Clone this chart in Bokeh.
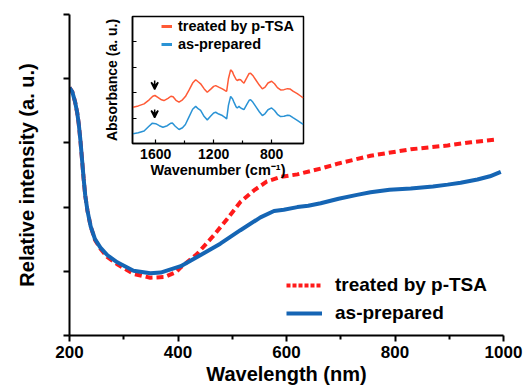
from bokeh.plotting import figure
from bokeh.models import (Range1d, FixedTicker, Legend, LegendItem, Arrow, VeeHead,
                          ColumnDataSource)
from bokeh.layouts import column
from bokeh.embed import file_html
from bokeh.resources import INLINE

NAN = float("nan")

# ---------------- main spectra (wavelength, relative intensity) ----------------
wl_prepared = [200, 205, 210, 214, 217, 220, 223, 226, 229, 233, 239, 247, 257, 270, 288,
               318, 349, 368, 405, 441, 478, 515, 552, 577, 595, 620,
               640, 663, 696, 730, 755, 790, 829, 870, 897, 921, 952, 975, 995]
int_prepared = [3.86, 3.80, 3.65, 3.48, 3.30, 3.05, 2.75, 2.45, 2.18, 1.95, 1.70, 1.50, 1.37,
                1.25, 1.14, 1.01, 0.97, 0.98, 1.08, 1.25, 1.43, 1.64, 1.84, 1.94, 1.96, 2.00,
                2.02, 2.06, 2.13, 2.19, 2.23, 2.27, 2.29, 2.32, 2.35, 2.38, 2.43, 2.48, 2.55]

wl_treated = [200, 205, 210, 214, 217, 220, 223, 226, 229, 233, 239, 247, 257, 270, 288,
              318, 349, 375, 397, 405, 435, 466, 491, 515, 540, 564, 589, 620, 663,
              696, 755, 829, 897, 940, 985]
int_treated = [3.86, 3.80, 3.65, 3.48, 3.30, 3.05, 2.75, 2.45, 2.18, 1.95, 1.70, 1.49, 1.35,
               1.22, 1.11, 0.96, 0.90, 0.91, 0.99, 1.06, 1.27, 1.56, 1.82, 2.08, 2.26, 2.40,
               2.47, 2.51, 2.60, 2.68, 2.80, 2.90, 2.96, 3.01, 3.05]

x_ticks = [200, 400, 600, 800, 1000]
x_minor = [300, 500, 700, 900]
y_ticks = [0, 1, 2, 3, 4, 5]

# ---------------- inset IR spectra (wavenumber, absorbance) ----------------
wn = [1756, 1720, 1680, 1645, 1620, 1605, 1585, 1560, 1543, 1515, 1495, 1480, 1460, 1439,
      1415, 1395, 1370, 1345, 1324, 1305, 1290, 1265, 1244, 1220, 1200, 1186, 1165, 1140,
      1120, 1110, 1098, 1083, 1070, 1060, 1045, 1037, 1025, 1014, 1000, 991, 970, 955, 945,
      930, 910, 885, 864, 845, 825, 800, 780, 760, 738, 715, 690, 674, 650, 623, 600, 582]
abs_treated = [1.43, 1.48, 1.56, 1.72, 1.86, 1.89, 1.82, 1.72, 1.69, 1.78, 1.86, 1.84, 1.70,
               1.63, 1.72, 1.85, 2.10, 2.38, 2.51, 2.42, 2.35, 2.15, 2.02, 2.14, 2.25, 2.28,
               2.22, 2.15, 2.08, 2.06, 2.55, 2.90, 2.82, 2.68, 2.52, 2.48, 2.52, 2.51, 2.42,
               2.38, 2.60, 2.76, 2.77, 2.68, 2.51, 2.30, 2.15, 2.22, 2.38, 2.45, 2.35, 2.20,
               2.11, 2.12, 2.16, 2.15, 2.05, 1.96, 1.87, 1.80]
wn_prepared = [1756, 1720, 1680, 1650, 1623, 1600, 1575, 1550, 1520, 1495, 1485, 1465, 1439,
               1415, 1395, 1370, 1345, 1324, 1305, 1290, 1265, 1244, 1220, 1200, 1186, 1165,
               1140, 1120, 1110, 1098, 1083, 1070, 1060, 1045, 1037, 1025, 1014, 1000, 991,
               970, 955, 945, 930, 910, 885, 864, 845, 825, 800, 780, 760, 738, 715, 690, 674,
               650, 623, 600, 582]
abs_prepared = [0.38, 0.42, 0.49, 0.66, 0.80, 0.78, 0.70, 0.64, 0.70, 0.80, 0.81, 0.68, 0.55,
                0.62, 0.75, 1.05, 1.35, 1.46, 1.36, 1.30, 1.06, 0.93, 1.08, 1.20, 1.23, 1.16,
                1.10, 1.02, 0.97, 1.50, 1.85, 1.76, 1.63, 1.44, 1.40, 1.46, 1.40, 1.36, 1.33,
                1.55, 1.70, 1.72, 1.63, 1.46, 1.25, 1.10, 1.18, 1.33, 1.40, 1.30, 1.15, 1.06,
                1.07, 1.11, 1.10, 1.01, 0.91, 0.82, 0.75]

inset_x_ticks = [1600, 1200, 800]
inset_x_minor = [1400, 1000]
inset_y_ticks = [0, 1, 2, 3, 4, 5]

arrow_wn = [1607, 1607]
arrow_y_start = [2.48, 1.34]
arrow_y_end = [2.13, 1.02]

FONT = "Liberation Sans"
RED = "#FF1A1A"
BLUE = "#1565B4"
IRED = "#FF5A36"
IBLUE = "#2A93D5"

# ---------------- main figure ----------------
p = figure(width=523, height=392, output_backend="svg", toolbar_location=None,
           x_range=Range1d(200, 1000), y_range=Range1d(0, 5),
           min_border_left=69, min_border_right=20, min_border_top=14, min_border_bottom=57)
p.margin = (0, 0, 0, 0)
p.grid.visible = False
p.outline_line_color = None
p.background_fill_color = "white"

r_red = p.line(wl_treated, int_treated, line_color=RED, line_width=4, line_dash="7 4")
r_blue = p.line(wl_prepared, int_prepared, line_color=BLUE, line_width=4)
# legend-only renderers (no visible data)
leg_red = p.line([NAN], [NAN], line_color=RED, line_width=4, line_dash="4 2")
leg_blue = p.line([NAN], [NAN], line_color=BLUE, line_width=4)

p.xaxis.ticker = FixedTicker(ticks=x_ticks, minor_ticks=x_minor)
p.yaxis.ticker = FixedTicker(ticks=y_ticks)
for ax in (p.xaxis, p.yaxis):
    ax.axis_line_width = 2
    ax.axis_line_color = "black"
    ax.major_tick_line_width = 2
    ax.major_tick_line_color = "black"
    ax.minor_tick_line_width = 2
    ax.minor_tick_line_color = "black"
    ax.major_tick_in = 0
    ax.major_tick_out = 6
    ax.minor_tick_in = 0
    ax.minor_tick_out = 4
    ax.axis_label_text_font = FONT
    ax.axis_label_text_font_style = "bold"
    ax.axis_label_text_font_size = "20px"
    ax.axis_label_text_color = "black"
    ax.major_label_text_font = FONT
    ax.major_label_text_font_style = "bold"
    ax.major_label_text_color = "black"

p.xaxis.major_label_text_font_size = "17px"
p.xaxis.major_label_standoff = 4
p.xaxis.axis_label = "Wavelength (nm)"
p.xaxis.axis_label_standoff = 2
p.yaxis.major_label_overrides = {t: "" for t in y_ticks}
p.yaxis.major_label_standoff = 0
p.yaxis.axis_label = "Relative intensity (a. u.)"
p.yaxis.axis_label_standoff = 26

legend = Legend(items=[LegendItem(label="treated by p-TSA", renderers=[leg_red]),
                       LegendItem(label="as-prepared", renderers=[leg_blue])],
                location=(217, 11), orientation="vertical")
legend.border_line_color = None
legend.background_fill_alpha = 0
legend.padding = 0
legend.margin = 0
legend.spacing = 6
legend.glyph_width = 36
legend.glyph_height = 22
legend.label_height = 22
legend.label_standoff = 13
legend.label_text_font = FONT
legend.label_text_font_style = "bold"
legend.label_text_font_size = "19px"
legend.label_text_color = "black"
p.add_layout(legend, "center")

# ---------------- inset figure (same side borders as the main plot) ----------------
q = figure(width=260, height=175, output_backend="svg", toolbar_location=None,
           x_range=Range1d(1760, 580), y_range=Range1d(0, 5),
           min_border_left=69, min_border_right=20, min_border_top=11, min_border_bottom=37)
q.margin = (5 - 392, 0, 0, 63)
q.grid.visible = False
q.border_fill_alpha = 0
q.background_fill_color = "white"
q.outline_line_color = "black"
q.outline_line_width = 1.5

q.line(wn, abs_treated, line_color=IRED, line_width=1.5)
q.line(wn_prepared, abs_prepared, line_color=IBLUE, line_width=1.5)
qleg_red = q.line([NAN], [NAN], line_color=IRED, line_width=3)
qleg_blue = q.line([NAN], [NAN], line_color=IBLUE, line_width=3)

asrc = ColumnDataSource(dict(x0=arrow_wn, y0=arrow_y_start, x1=arrow_wn, y1=arrow_y_end))
q.add_layout(Arrow(source=asrc, x_start="x0", y_start="y0", x_end="x1", y_end="y1",
                   line_color="black", line_width=1.5,
                   end=VeeHead(size=7, line_color="black", line_width=1.5)))

q.xaxis.ticker = FixedTicker(ticks=inset_x_ticks, minor_ticks=inset_x_minor)
q.yaxis.ticker = FixedTicker(ticks=inset_y_ticks)
for ax in (q.xaxis, q.yaxis):
    ax.axis_line_width = 1.5
    ax.axis_line_color = "black"
    ax.major_tick_line_width = 1.2
    ax.major_tick_line_color = "black"
    ax.minor_tick_line_width = 1.2
    ax.minor_tick_line_color = "black"
    ax.major_tick_in = 4
    ax.major_tick_out = 0
    ax.minor_tick_in = 3
    ax.minor_tick_out = 0
    ax.axis_label_text_font = FONT
    ax.axis_label_text_font_style = "bold"
    ax.axis_label_text_font_size = "14px"
    ax.axis_label_text_color = "black"
    ax.major_label_text_font = FONT
    ax.major_label_text_font_style = "bold"
    ax.major_label_text_color = "black"

q.xaxis.major_label_text_font_size = "14px"
q.xaxis.major_label_standoff = 5
q.xaxis.axis_label = "Wavenumber (cm⁻¹)"
q.xaxis.axis_label_text_font_size = "14.5px"
q.xaxis.axis_label_standoff = 0
q.yaxis.major_label_overrides = {t: "" for t in inset_y_ticks}
q.yaxis.major_label_standoff = 0
q.yaxis.axis_label = "Absorbance (a. u.)"
q.yaxis.axis_label_standoff = 13

qlegend = Legend(items=[LegendItem(label="treated by p-TSA", renderers=[qleg_red]),
                        LegendItem(label="as-prepared", renderers=[qleg_blue])],
                 location=(29, 91), orientation="vertical")
qlegend.border_line_color = None
qlegend.background_fill_alpha = 0
qlegend.padding = 0
qlegend.margin = 0
qlegend.spacing = 2
qlegend.glyph_width = 11
qlegend.glyph_height = 16
qlegend.label_height = 16
qlegend.label_standoff = 6
qlegend.label_text_font = FONT
qlegend.label_text_font_style = "bold"
qlegend.label_text_font_size = "14.5px"
qlegend.label_text_color = "black"
q.add_layout(qlegend, "center")

layout = column(p, q, spacing=0)
layout.margin = (0, 0, 0, 0)

open("out.html", "w").write(file_html(layout, INLINE))
